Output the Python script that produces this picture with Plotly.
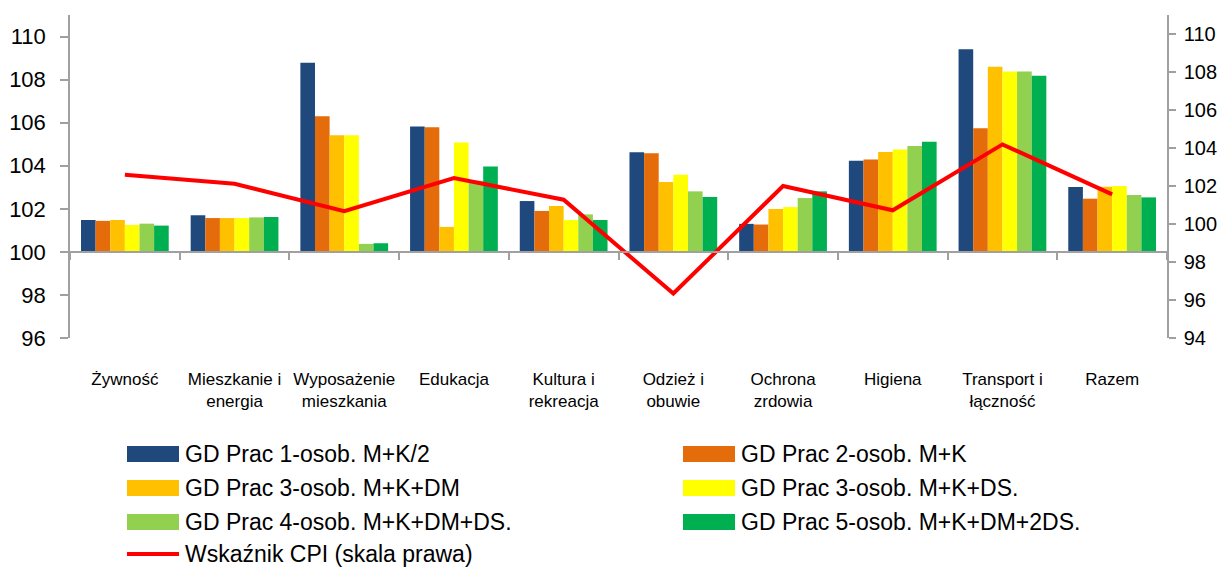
import plotly.graph_objects as go

# ---------------- data ----------------
categories = ["Żywność", "Mieszkanie i energia", "Wyposażenie mieszkania", "Edukacja",
              "Kultura i rekreacja", "Odzież i obuwie", "Ochrona zrdowia", "Higiena",
              "Transport i łączność", "Razem"]
tick_labels = ["Żywność", "Mieszkanie i<br>energia", "Wyposażenie<br>mieszkania", "Edukacja",
               "Kultura i<br>rekreacja", "Odzież i<br>obuwie", "Ochrona<br>zrdowia", "Higiena",
               "Transport i<br>łączność", "Razem"]

series_names = ["GD Prac 1-osob. M+K/2", "GD Prac 2-osob. M+K", "GD Prac 3-osob. M+K+DM",
                "GD Prac 3-osob. M+K+DS.", "GD Prac 4-osob. M+K+DM+DS.", "GD Prac 5-osob. M+K+DM+2DS."]

s1 = [101.48, 101.70, 108.78, 105.82, 102.36, 104.63, 101.30, 104.23, 109.41, 103.01]
s2 = [101.44, 101.57, 106.30, 105.79, 101.90, 104.58, 101.27, 104.29, 105.74, 102.47]
s3 = [101.48, 101.57, 105.42, 101.16, 102.13, 103.25, 101.99, 104.64, 108.60, 103.02]
s4 = [101.25, 101.57, 105.42, 105.08, 101.48, 103.58, 102.08, 104.75, 108.38, 103.06]
s5 = [101.31, 101.60, 100.37, 103.30, 101.74, 102.81, 102.50, 104.92, 108.38, 102.64]
s6 = [101.22, 101.62, 100.40, 103.97, 101.48, 102.55, 102.81, 105.11, 108.18, 102.53]

cpi_name = "Wskaźnik CPI (skala prawa)"
cpi = [102.59, 102.12, 100.68, 102.42, 101.28, 96.34, 102.00, 100.72, 104.19, 101.56]

# ---------------- styling ----------------
colors = ["#1F497D", "#E46C0A", "#FFC000", "#FFFF00", "#92D050", "#00B050"]
cpi_color = "#FF0000"
axis_gray = "#A0A0A0"
OFF = 8                      # default body margin of the html page
W, H = 1226 - 2 * OFF, 579 - 2 * OFF
L, T = 70 - OFF, 15 - OFF
PW, PH = 1097, 323
R, B = W - L - PW, H - T - PH
base_value = 100
left_range = [96, 111]
right_range = [94, 111]

fig = go.Figure()
for name, vals, col in zip(series_names, [s1, s2, s3, s4, s5, s6], colors):
    fig.add_trace(go.Bar(
        x=categories, y=[v - base_value for v in vals], base=base_value,
        name=name, marker=dict(color=col, line=dict(width=0)),
        showlegend=False, xaxis="x", yaxis="y"))

fig.add_trace(go.Scatter(
    x=categories, y=cpi, name=cpi_name, mode="lines",
    line=dict(color=cpi_color, width=4), showlegend=False,
    xaxis="x2", yaxis="y2"))

tick_font = dict(family="Liberation Sans, Arial, sans-serif", size=22, color="#000000")
tick_font_r = dict(family="Liberation Sans, Arial, sans-serif", size=20, color="#000000")
cat_font = dict(family="Liberation Sans, Arial, sans-serif", size=17, color="#000000")

fig.update_layout(
    width=W, height=H,
    margin=dict(l=L, r=R, t=T, b=B, pad=0, autoexpand=False),
    paper_bgcolor="white", plot_bgcolor="white",
    barmode="group", bargap=0.2, bargroupgap=0,
    showlegend=False,
    xaxis=dict(
        type="category", categoryorder="array", categoryarray=categories,
        range=[-0.5, len(categories) - 0.5], automargin=False,
        anchor="free", position=(base_value - left_range[0]) / (left_range[1] - left_range[0]),
        showline=True, linecolor=axis_gray, linewidth=1.5,
        ticks="outside", tickson="boundaries", ticklen=7, tickcolor=axis_gray, tickwidth=1.5,
        showticklabels=False, showgrid=False, zeroline=False, fixedrange=True),
    xaxis2=dict(
        type="category", categoryorder="array", categoryarray=categories,
        overlaying="x", anchor="y2", side="bottom", automargin=False,
        range=[-0.5, len(categories) - 0.5],
        tickmode="array", tickvals=categories, ticktext=tick_labels, tickangle=0,
        showline=False, ticks="", showgrid=False, zeroline=False,
        tickfont=cat_font, ticklabelstandoff=29),
    yaxis=dict(
        range=left_range, tickmode="array", tickvals=list(range(96, 111, 2)), automargin=False,
        showline=True, linecolor=axis_gray, linewidth=1.5,
        ticks="outside", ticklen=8, tickcolor=axis_gray, tickwidth=1.5,
        showgrid=False, zeroline=False, tickfont=tick_font, ticklabelstandoff=10),
    yaxis2=dict(
        range=right_range, tickmode="array", tickvals=list(range(94, 111, 2)), automargin=False,
        overlaying="y", side="right", anchor="x2",
        showline=True, linecolor=axis_gray, linewidth=1.5,
        ticks="outside", ticklen=7, tickcolor=axis_gray, tickwidth=1.5,
        showgrid=False, zeroline=False, tickfont=tick_font_r, ticklabelstandoff=4),
)

# ---------------- custom legend (layout only, pixel positions in the page) ----------------
def px_x(p):
    return (p - OFF - L) / PW
def px_y(p):
    return (H - B - (p - OFF)) / PH

leg_font = dict(family="Liberation Sans, Arial, sans-serif", size=23, color="#000000")
col_x = [127, 683]
row_y = [454, 488, 522, 554]
sw_w, sw_h, text_gap = 52, 16, 5
entries = [(series_names[i], colors[i], i % 2, i // 2) for i in range(6)]
for name, col, c, r in entries:
    x0 = col_x[c]
    yc = row_y[r]
    fig.add_shape(type="rect", xref="paper", yref="paper",
                  x0=px_x(x0), x1=px_x(x0 + sw_w), y0=px_y(yc + sw_h / 2), y1=px_y(yc - sw_h / 2),
                  fillcolor=col, line=dict(width=0))
    fig.add_annotation(xref="paper", yref="paper", x=px_x(x0 + sw_w + text_gap), y=px_y(yc),
                       text=name, showarrow=False, xanchor="left", yanchor="middle", font=leg_font,
                       borderpad=0)
# CPI entry
fig.add_shape(type="line", xref="paper", yref="paper",
              x0=px_x(col_x[0]), x1=px_x(col_x[0] + sw_w), y0=px_y(row_y[3]), y1=px_y(row_y[3]),
              line=dict(color=cpi_color, width=4))
fig.add_annotation(xref="paper", yref="paper", x=px_x(col_x[0] + sw_w + text_gap), y=px_y(row_y[3]),
                   text=cpi_name, showarrow=False, xanchor="left", yanchor="middle", font=leg_font,
                   borderpad=0)

fig.write_html("out.html")
